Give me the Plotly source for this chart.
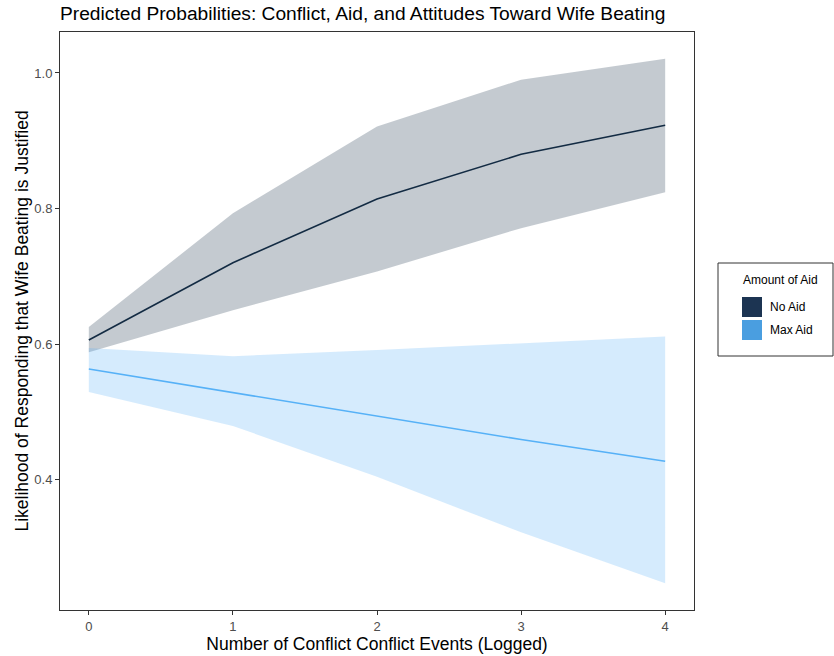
import plotly.graph_objects as go

conflict = [0, 1, 2, 3, 4]
noaid_fit = [0.606, 0.720, 0.814, 0.880, 0.923]
noaid_lo = [0.588, 0.650, 0.707, 0.771, 0.824]
noaid_hi = [0.625, 0.793, 0.921, 0.990, 1.021]
maxaid_fit = [0.563, 0.528, 0.494, 0.459, 0.427]
maxaid_lo = [0.529, 0.479, 0.404, 0.322, 0.247]
maxaid_hi = [0.594, 0.582, 0.591, 0.601, 0.611]
series_names = ["No Aid", "Max Aid"]
legend_title = "Amount of Aid"
x_ticks = [0, 1, 2, 3, 4]
y_ticks = [0.4, 0.6, 0.8, 1.0]
y_tick_labels = ["0.4", "0.6", "0.8", "1.0"]

FONT = "Liberation Sans, Arial, sans-serif"
dark = "#132B43"
light = "#56B1F7"
key_colors = ["#1C3452", "#4A9EE0"]

W, H = 834, 656
ML, MR, MT, MB = 60, 140, 32, 46
PW, PH = W - ML - MR, H - MT - MB

def px_x(p):
    return (p - ML) / PW

def px_y(p):
    return (H - MB - p) / PH

fig = go.Figure()

def band(lo, hi, fillcolor):
    fig.add_trace(go.Scatter(
        x=conflict + conflict[::-1], y=hi + lo[::-1],
        fill="toself", fillcolor=fillcolor, mode="lines",
        line=dict(width=0), hoverinfo="skip", showlegend=False))

band(noaid_lo, noaid_hi, "rgba(19,43,67,0.25)")
band(maxaid_lo, maxaid_hi, "rgba(86,177,247,0.25)")

fig.add_trace(go.Scatter(x=conflict, y=noaid_fit, mode="lines", name=series_names[0],
                         line=dict(color=dark, width=1.6), showlegend=False))
fig.add_trace(go.Scatter(x=conflict, y=maxaid_fit, mode="lines", name=series_names[1],
                         line=dict(color=light, width=1.6), showlegend=False))

# legend (box, title, keys, labels)
shapes = [dict(type="rect", xref="paper", yref="paper",
               x0=px_x(718), x1=px_x(833), y0=px_y(356), y1=px_y(263),
               line=dict(color="#333333", width=1), fillcolor="white")]
annotations = [dict(text=legend_title, xref="paper", yref="paper",
                    x=px_x(741), y=px_y(280), xanchor="left", yanchor="middle",
                    showarrow=False, font=dict(size=12, color="black"))]
for i, (name, col) in enumerate(zip(series_names, key_colors)):
    top = 297 + i * 23
    shapes.append(dict(type="rect", xref="paper", yref="paper",
                       x0=px_x(742), x1=px_x(762), y0=px_y(top + 20), y1=px_y(top),
                       line=dict(width=0), fillcolor=col))
    annotations.append(dict(text=name, xref="paper", yref="paper",
                            x=px_x(768), y=px_y(top + 10), xanchor="left",
                            yanchor="middle", showarrow=False,
                            font=dict(size=12, color="black")))

fig.update_layout(
    width=W, height=H,
    margin=dict(l=ML, r=MR, t=MT, b=MB, autoexpand=False),
    paper_bgcolor="white", plot_bgcolor="white",
    font=dict(family=FONT, color="black"),
    showlegend=False,
    shapes=shapes, annotations=annotations,
    title=dict(text="Predicted Probabilities: Conflict, Aid, and Attitudes Toward Wife Beating",
               x=60 / W, xanchor="left", xref="container",
               y=1 - 13 / H, yanchor="middle", yref="container",
               pad=dict(t=0, b=0, l=0, r=0),
               font=dict(size=19.2, color="black")),
    xaxis=dict(range=[-0.2, 4.2], tickvals=x_ticks, ticks="outside", ticklen=4,
               tickcolor="#333333", tickfont=dict(size=13, color="#4D4D4D"),
               showgrid=False, zeroline=False, showline=True, linecolor="#333333",
               linewidth=1, mirror=True, automargin=False,
               title=dict(text="Number of Conflict Conflict Events (Logged)",
                          font=dict(size=17.5), standoff=0)),
    yaxis=dict(range=[0.2074, 1.0605], tickvals=y_ticks, ticktext=y_tick_labels,
               ticks="outside", ticklen=4, tickcolor="#333333",
               tickfont=dict(size=13, color="#4D4D4D"),
               showgrid=False, zeroline=False, showline=True, linecolor="#333333",
               linewidth=1, mirror=True, automargin=False,
               title=dict(text="Likelihood of Responding that Wife Beating is Justified",
                          font=dict(size=17.5), standoff=1)),
)

fig.write_html("out.html", config={"displayModeBar": False},
               post_script="document.body.style.margin='0';document.body.style.padding='0';document.body.style.overflow='hidden';")
